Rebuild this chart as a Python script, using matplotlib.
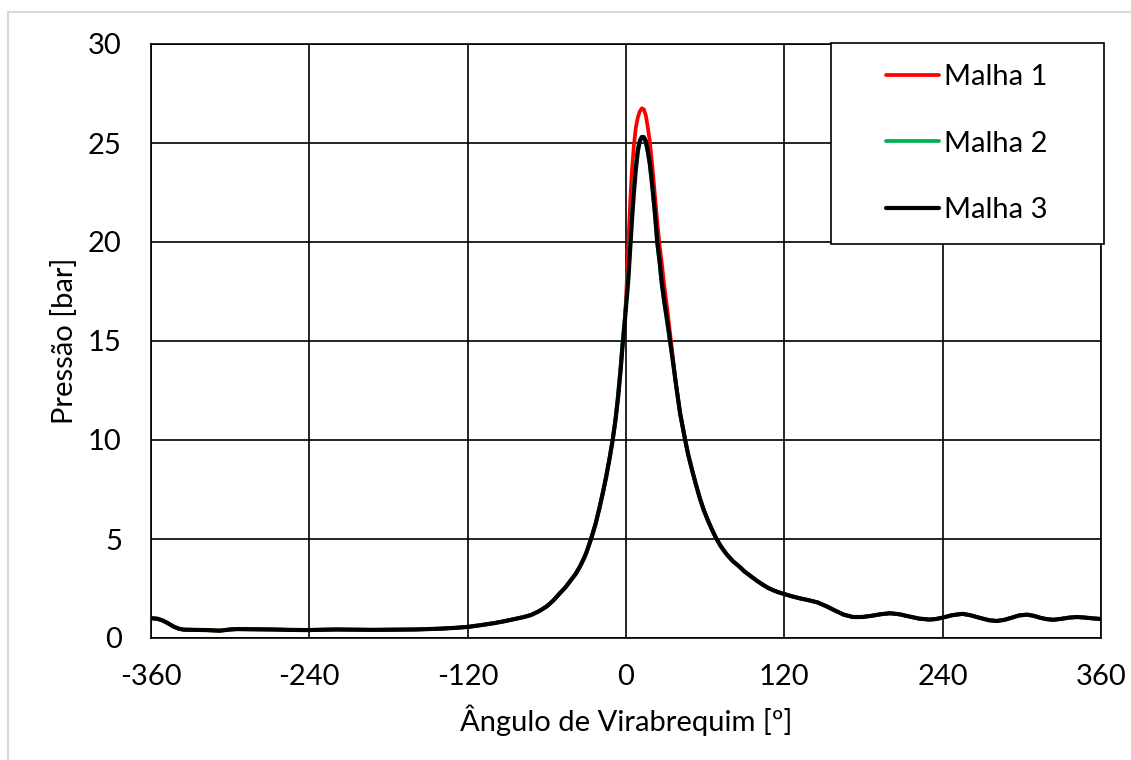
import matplotlib
matplotlib.use('Agg')
import matplotlib.pyplot as plt
from matplotlib.patches import Rectangle

plt.rcParams['font.family'] = ['Lato', 'DejaVu Sans']
plt.rcParams['axes.unicode_minus'] = False

# ---------------------- dados ----------------------
angulo = [-360, -355, -351, -347, -343, -339, -335, -326, -318, -308, -300, -295,
          -280, -268, -255, -242, -220, -192, -160, -141, -130, -120, -110, -100,
          -92, -85, -78, -72, -66, -60, -55, -50, -46, -42, -38, -35, -32, -30,
          -26.5, -23, -20, -17.5, -15, -12.5, -10, -8, -6, -4, -2.5, -1, 0, 1,
          1.75, 2.5, 3.5, 4.5, 6, 7.5, 9, 10.5, 12, 13.5, 15, 16.5, 18, 20, 22,
          23.7, 25.5, 27, 29, 31.3, 33.4, 35.5, 38, 41, 44.7, 47, 50, 53, 56, 59,
          62, 65, 68.2, 72, 76, 81, 86, 90, 95, 99, 104, 108, 112, 116, 120, 126,
          132, 139, 145, 152, 158, 165, 172, 179, 186, 193, 200, 207, 215, 222,
          230, 235, 240, 247, 255, 261, 268, 275, 281, 287, 292, 298, 304, 309,
          314, 319, 324, 330, 336, 342, 348, 354, 360]

# trecho comum (antes do pico e depois de ~35 graus)
inicio = [1.0, 0.97, 0.88, 0.74, 0.58, 0.47, 0.42, 0.41, 0.40, 0.37, 0.43, 0.45,
          0.44, 0.43, 0.41, 0.40, 0.43, 0.41, 0.43, 0.47, 0.51, 0.56, 0.65, 0.75,
          0.85, 0.95, 1.05, 1.16, 1.35, 1.6, 1.9, 2.27, 2.55, 2.9, 3.25, 3.6, 4.0,
          4.32, 5.0, 5.78, 6.6, 7.35, 8.15, 9.05, 10.05, 11.0]
fim = [12.75, 11.35, 10.05, 9.3, 8.5, 7.75, 7.05, 6.45, 5.95, 5.5, 5.05, 4.62,
       4.25, 3.88, 3.6, 3.35, 3.1, 2.9, 2.68, 2.52, 2.4, 2.3, 2.22, 2.1, 2.0, 1.9,
       1.8, 1.6, 1.4, 1.18, 1.06, 1.06, 1.12, 1.2, 1.25, 1.2, 1.08, 0.98, 0.93,
       0.96, 1.03, 1.15, 1.22, 1.15, 1.02, 0.9, 0.86, 0.92, 1.02, 1.14, 1.18,
       1.12, 1.02, 0.95, 0.92, 0.97, 1.03, 1.06, 1.03, 0.99, 0.96]

# pico: de -6 a 35.5 graus
pico1 = [12.15, 13.6, 14.85, 16.0, 17.1, 18.7, 20.0, 21.0, 22.4, 23.6, 24.9, 25.8,
         26.3, 26.6, 26.75, 26.7, 26.4, 25.8, 25.1, 23.8, 22.3, 21.0, 19.8, 19.0,
         17.8, 16.6, 15.4, 14.2]
pico2 = [12.35, 13.8, 15.05, 16.1, 16.9, 17.65, 18.3, 19.2, 20.3, 21.4, 22.8,
         23.9, 24.75, 25.15, 25.3, 25.25, 25.0, 24.5, 23.9, 22.7, 21.3, 19.9, 18.9,
         17.9, 16.9, 15.9, 14.95, 13.95]
pico3 = [12.15, 13.6, 14.85, 15.9, 16.7, 17.45, 18.1, 18.9, 20.0, 21.1, 22.5,
         23.7, 24.6, 25.1, 25.3, 25.3, 25.1, 24.6, 24.0, 22.8, 21.4, 20.0, 19.0,
         18.0, 17.0, 16.0, 15.0, 14.0]

malha1 = inicio + pico1 + fim
malha2 = inicio + pico2 + fim
malha3 = inicio + pico3 + fim

series = [('Malha 1', malha1, '#ff0000', 2.7),
          ('Malha 2', malha2, '#00b050', 2.7),
          ('Malha 3', malha3, '#000000', 3.0)]

xticks = [-360, -240, -120, 0, 120, 240, 360]
yticks = [0, 5, 10, 15, 20, 25, 30]

# ---------------------- figura ----------------------
W, H = 1131, 760
fig = plt.figure(figsize=(W / 100, H / 100), dpi=100)
ax = fig.add_axes([151 / W, 1 - 638 / H, 950 / W, 594 / H])

handles = []
for nome, vals, cor, lw in series:
    h, = ax.plot(angulo, vals, color=cor, lw=lw, label=nome,
                 solid_capstyle='round', solid_joinstyle='round')
    handles.append(h)

ax.set_xlim(-360, 360)
ax.set_ylim(0, 30)
ax.set_xticks(xticks)
ax.set_yticks(yticks)
ax.grid(True, color='black', lw=1.2)
ax.set_axisbelow(True)
for s in ax.spines.values():
    s.set_color('black')
    s.set_linewidth(1.2)
ax.tick_params(length=0, labelsize=21, colors='black')
ax.tick_params(axis='x', pad=19)
ax.tick_params(axis='y', pad=21)

ax.set_xlabel('Ângulo de Virabrequim [º]', fontsize=21, labelpad=10)
ax.set_ylabel('Pressão [bar]', fontsize=21, labelpad=7)

# moldura da legenda (canto superior direito)
fig.patches.append(Rectangle((831 / W, 1 - 244 / H), 273 / W, 201 / H,
                             transform=fig.transFigure, facecolor='white',
                             edgecolor='black', lw=1.2, zorder=4))
fig.legend(handles=handles, loc='center', bbox_to_anchor=(967 / W, 1 - 143.5 / H),
           bbox_transform=fig.transFigure, frameon=False, fontsize=21,
           handlelength=1.8, handletextpad=0.2, labelspacing=1.38, borderpad=0)

# borda cinza do gráfico
fig.patches.append(Rectangle((8 / W, -0.1), 1.2, 1.1 - 12 / H,
                             transform=fig.transFigure, facecolor='none',
                             edgecolor='#d9d9d9', lw=1.5, zorder=0))

fig.savefig('out.png', dpi=100, facecolor='white')
